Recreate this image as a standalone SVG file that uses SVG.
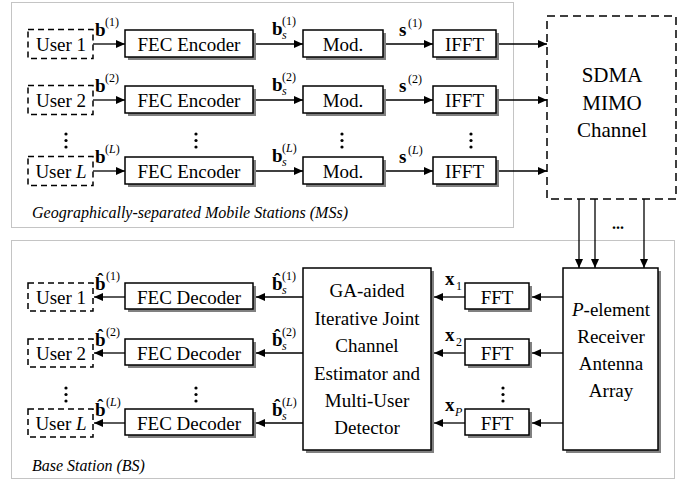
<svg xmlns="http://www.w3.org/2000/svg" width="692" height="481" viewBox="0 0 692 481" font-family="'Liberation Serif', 'DejaVu Serif', serif">
<defs>
<style>
text{font-family:'Liberation Serif','DejaVu Serif',serif;fill:#000}
.t{font-size:19px;text-anchor:middle}
.big{font-size:21px;text-anchor:middle}
.cap{font-size:16px;font-style:italic}
.b{font-size:19px;font-weight:bold}
.sup{font-size:12px;font-weight:normal}
.sub{font-size:12px;font-style:italic;font-weight:normal}
.i{font-style:italic}
.box{fill:#fff;stroke:#000;stroke-width:1.5}
.sh{fill:#808080}
.dash{fill:#fff;stroke:#000;stroke-width:1.5;stroke-dasharray:6,4}
.dot{fill:none;stroke:#888;stroke-width:1;stroke-dasharray:1,1}
.ln{stroke:#000;stroke-width:1.3;fill:none;marker-end:url(#ah)}
.d{fill:#000}
</style>
<marker id="ah" markerUnits="userSpaceOnUse" markerWidth="9" markerHeight="8" refX="9" refY="4" orient="auto">
<path d="M0,0 L9,4 L0,8 z" fill="#000"/>
</marker>
</defs>

<rect class="dot" x="11.5" y="2.5" width="502" height="225"/>
<rect class="dot" x="11.5" y="240.5" width="663" height="238"/>
<text class="cap" x="32" y="218" textLength="316" lengthAdjust="spacingAndGlyphs">Geographically-separated Mobile Stations (MSs)</text>
<text class="cap" x="32" y="471">Base Station (BS)</text>

<g id="user1-tx"><rect class="dash" x="28" y="29.5" width="65" height="29"/><text class="t" x="61" y="51">User 1</text></g>
<g id="user2-tx"><rect class="dash" x="28" y="85.5" width="65" height="29"/><text class="t" x="61" y="107">User 2</text></g>
<g id="userL-tx"><rect class="dash" x="28" y="156.5" width="65" height="29"/><text class="t" x="61" y="178">User <tspan class="i">L</tspan></text></g>

<g id="fec-enc-1"><rect class="sh" x="128" y="33" width="128" height="27"/><rect class="box" x="125" y="30" width="128" height="27"/><text class="t" x="189" y="51">FEC Encoder</text></g>
<g id="fec-enc-2"><rect class="sh" x="128" y="89" width="128" height="27"/><rect class="box" x="125" y="86" width="128" height="27"/><text class="t" x="189" y="107">FEC Encoder</text></g>
<g id="fec-enc-L"><rect class="sh" x="128" y="160" width="128" height="27"/><rect class="box" x="125" y="157" width="128" height="27"/><text class="t" x="189" y="178">FEC Encoder</text></g>

<g id="mod-1"><rect class="sh" x="306" y="33" width="80" height="27"/><rect class="box" x="303" y="30" width="80" height="27"/><text class="t" x="343" y="51">Mod.</text></g>
<g id="mod-2"><rect class="sh" x="306" y="89" width="80" height="27"/><rect class="box" x="303" y="86" width="80" height="27"/><text class="t" x="343" y="107">Mod.</text></g>
<g id="mod-L"><rect class="sh" x="306" y="160" width="80" height="27"/><rect class="box" x="303" y="157" width="80" height="27"/><text class="t" x="343" y="178">Mod.</text></g>

<g id="ifft-1"><rect class="sh" x="436" y="33" width="63" height="27"/><rect class="box" x="433" y="30" width="63" height="27"/><text class="t" x="464.5" y="51">IFFT</text></g>
<g id="ifft-2"><rect class="sh" x="436" y="89" width="63" height="27"/><rect class="box" x="433" y="86" width="63" height="27"/><text class="t" x="464.5" y="107">IFFT</text></g>
<g id="ifft-L"><rect class="sh" x="436" y="160" width="63" height="27"/><rect class="box" x="433" y="157" width="63" height="27"/><text class="t" x="464.5" y="178">IFFT</text></g>

<g id="sdma"><rect class="dash" style="stroke-dasharray:8,5" x="547" y="16" width="129" height="183"/>
<text class="big" x="612" y="82">SDMA</text><text class="big" x="612" y="110">MIMO</text><text class="big" x="612" y="137">Channel</text></g>

<g id="receiver"><rect class="sh" x="566" y="271" width="95" height="182"/><rect class="box" x="563" y="268" width="95" height="182"/>
<text class="t" x="611" y="316"><tspan class="i">P</tspan>-element</text><text class="t" x="611" y="343">Receiver</text><text class="t" x="611" y="370">Antenna</text><text class="t" x="611" y="397">Array</text></g>

<g id="fft-1"><rect class="sh" x="468" y="286" width="64" height="26"/><rect class="box" x="465" y="283" width="64" height="26"/><text class="t" x="497" y="303.5">FFT</text></g>
<g id="fft-2"><rect class="sh" x="468" y="342" width="64" height="26"/><rect class="box" x="465" y="339" width="64" height="26"/><text class="t" x="497" y="359.5">FFT</text></g>
<g id="fft-P"><rect class="sh" x="468" y="412" width="64" height="26"/><rect class="box" x="465" y="409" width="64" height="26"/><text class="t" x="497" y="429.5">FFT</text></g>

<g id="ga-detector"><rect class="sh" x="306" y="271" width="128" height="182"/><rect class="box" x="303" y="268" width="128" height="182"/>
<text class="t" x="367" y="297">GA-aided</text><text class="t" x="367" y="325">Iterative Joint</text><text class="t" x="367" y="352">Channel</text><text class="t" x="367" y="380">Estimator and</text><text class="t" x="367" y="407">Multi-User</text><text class="t" x="367" y="434">Detector</text></g>

<g id="fec-dec-1"><rect class="sh" x="128" y="286" width="128" height="26"/><rect class="box" x="125" y="283" width="128" height="26"/><text class="t" x="189" y="303.5">FEC Decoder</text></g>
<g id="fec-dec-2"><rect class="sh" x="128" y="342" width="128" height="26"/><rect class="box" x="125" y="339" width="128" height="26"/><text class="t" x="189" y="359.5">FEC Decoder</text></g>
<g id="fec-dec-L"><rect class="sh" x="128" y="412" width="128" height="26"/><rect class="box" x="125" y="409" width="128" height="26"/><text class="t" x="189" y="429.5">FEC Decoder</text></g>

<g id="user1-rx"><rect class="dash" x="28" y="283" width="65" height="28"/><text class="t" x="61" y="303.5">User 1</text></g>
<g id="user2-rx"><rect class="dash" x="28" y="339" width="65" height="28"/><text class="t" x="61" y="359.5">User 2</text></g>
<g id="userL-rx"><rect class="dash" x="28" y="409" width="65" height="28"/><text class="t" x="61" y="429.5">User <tspan class="i">L</tspan></text></g>

<g id="connectors">
<line class="ln" x1="93" y1="44" x2="125" y2="44"/>
<line class="ln" x1="256" y1="44" x2="303" y2="44"/>
<line class="ln" x1="386" y1="44" x2="433" y2="44"/>
<line class="ln" x1="499" y1="44" x2="547" y2="44"/>
<line class="ln" x1="93" y1="100" x2="125" y2="100"/>
<line class="ln" x1="256" y1="100" x2="303" y2="100"/>
<line class="ln" x1="386" y1="100" x2="433" y2="100"/>
<line class="ln" x1="499" y1="100" x2="547" y2="100"/>
<line class="ln" x1="93" y1="171" x2="125" y2="171"/>
<line class="ln" x1="256" y1="171" x2="303" y2="171"/>
<line class="ln" x1="386" y1="171" x2="433" y2="171"/>
<line class="ln" x1="499" y1="171" x2="547" y2="171"/>
<line class="ln" x1="579" y1="199" x2="579" y2="268"/>
<line class="ln" x1="595" y1="199" x2="595" y2="268"/>
<line class="ln" x1="644" y1="199" x2="644" y2="268"/>
<line class="ln" x1="563" y1="297" x2="532" y2="297"/>
<line class="ln" x1="465" y1="297" x2="434" y2="297"/>
<line class="ln" x1="303" y1="297" x2="256" y2="297"/>
<line class="ln" x1="125" y1="297" x2="94" y2="297"/>
<line class="ln" x1="563" y1="353" x2="532" y2="353"/>
<line class="ln" x1="465" y1="353" x2="434" y2="353"/>
<line class="ln" x1="303" y1="353" x2="256" y2="353"/>
<line class="ln" x1="125" y1="353" x2="94" y2="353"/>
<line class="ln" x1="563" y1="423" x2="532" y2="423"/>
<line class="ln" x1="465" y1="423" x2="434" y2="423"/>
<line class="ln" x1="303" y1="423" x2="256" y2="423"/>
<line class="ln" x1="125" y1="423" x2="94" y2="423"/>
</g>

<g class="d">
<circle cx="66" cy="134" r="1.6"/><circle cx="66" cy="140.5" r="1.6"/><circle cx="66" cy="147" r="1.6"/>
<circle cx="196" cy="134" r="1.6"/><circle cx="196" cy="140.5" r="1.6"/><circle cx="196" cy="147" r="1.6"/>
<circle cx="342" cy="134" r="1.6"/><circle cx="342" cy="140.5" r="1.6"/><circle cx="342" cy="147" r="1.6"/>
<circle cx="471" cy="134" r="1.6"/><circle cx="471" cy="140.5" r="1.6"/><circle cx="471" cy="147" r="1.6"/>
<circle cx="66" cy="388" r="1.6"/><circle cx="66" cy="394.5" r="1.6"/><circle cx="66" cy="401" r="1.6"/>
<circle cx="196" cy="388" r="1.6"/><circle cx="196" cy="394.5" r="1.6"/><circle cx="196" cy="401" r="1.6"/>
<circle cx="503" cy="388" r="1.6"/><circle cx="503" cy="394.5" r="1.6"/><circle cx="503" cy="401" r="1.6"/>
</g>
<text style="font-size:16px;font-weight:bold" x="612" y="229">...</text>

<g id="labels-tx">
<text class="b" x="95" y="36">b<tspan class="sup" x="105" y="26">(1)</tspan></text>
<text class="b" x="95" y="92">b<tspan class="sup" x="105" y="82">(2)</tspan></text>
<text class="b" x="95" y="163">b<tspan class="sup" x="105" y="153">(<tspan class="i">L</tspan>)</tspan></text>
<text class="b" x="272" y="35">b<tspan class="sub" x="282" y="39">s</tspan><tspan class="sup" x="282" y="25">(1)</tspan></text>
<text class="b" x="272" y="91">b<tspan class="sub" x="282" y="95">s</tspan><tspan class="sup" x="282" y="81">(2)</tspan></text>
<text class="b" x="272" y="162">b<tspan class="sub" x="282" y="166">s</tspan><tspan class="sup" x="282" y="152">(<tspan class="i">L</tspan>)</tspan></text>
<text class="b" x="399" y="36">s<tspan class="sup" x="408" y="27">(1)</tspan></text>
<text class="b" x="399" y="92">s<tspan class="sup" x="408" y="83">(2)</tspan></text>
<text class="b" x="399" y="163">s<tspan class="sup" x="408" y="154">(<tspan class="i">L</tspan>)</tspan></text>
</g>

<g id="labels-rx">
<text class="b" x="95" y="290">b&#x302;<tspan class="sup" x="106" y="280">(1)</tspan></text>
<text class="b" x="95" y="346">b&#x302;<tspan class="sup" x="106" y="336">(2)</tspan></text>
<text class="b" x="95" y="416">b&#x302;<tspan class="sup" x="106" y="406">(<tspan class="i">L</tspan>)</tspan></text>
<text class="b" x="272" y="290">b&#x302;<tspan class="sub" x="282" y="294">s</tspan><tspan class="sup" x="282" y="280">(1)</tspan></text>
<text class="b" x="272" y="346">b&#x302;<tspan class="sub" x="282" y="350">s</tspan><tspan class="sup" x="282" y="336">(2)</tspan></text>
<text class="b" x="272" y="416">b&#x302;<tspan class="sub" x="282" y="420">s</tspan><tspan class="sup" x="282" y="406">(<tspan class="i">L</tspan>)</tspan></text>
<text class="b" x="445" y="285">x<tspan class="sup" x="456" y="290">1</tspan></text>
<text class="b" x="445" y="341">x<tspan class="sup" x="456" y="346">2</tspan></text>
<text class="b" x="445" y="411">x<tspan class="sub" x="455" y="416">P</tspan></text>
</g>
</svg>
